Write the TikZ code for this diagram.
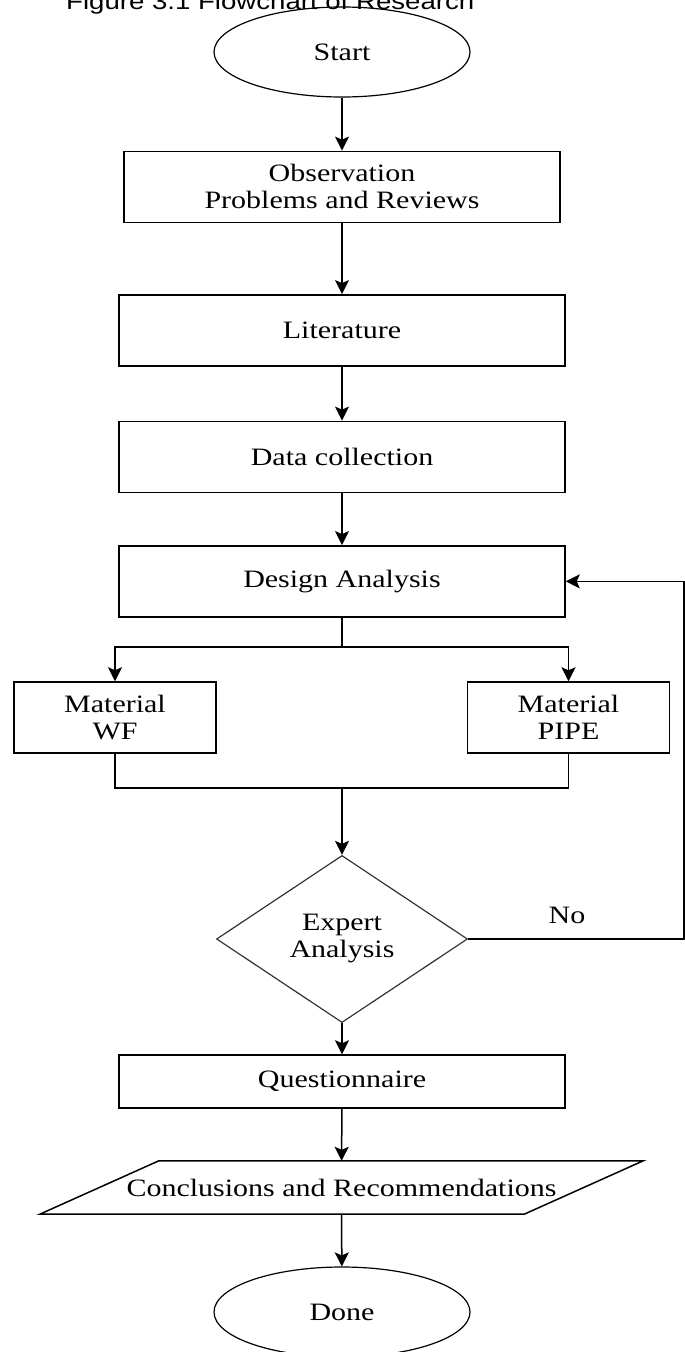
\documentclass[tikz,border=0pt]{standalone}
\usepackage{fontspec}
\setmainfont[FakeStretch=1.2]{Liberation Serif}
\newfontfamily\captionfont[FakeStretch=1.2]{Liberation Sans}
\usepackage{tikz}
\usetikzlibrary{shapes.geometric, positioning, arrows.meta}
\tikzstyle{startstop} = [ellipse, minimum width=256pt, minimum height=90pt, text centered, draw=black, line width=1.2pt]
\tikzstyle{process} = [rectangle, minimum width=446pt, minimum height=71pt, text centered, align=center, draw=black, line width=1.5pt]
\tikzstyle{material} = [process, minimum width=202pt]
\tikzstyle{decision} = [diamond, minimum width=251pt, minimum height=158pt, align=center, draw=black!80, line width=1.2pt]
\tikzstyle{io} = [rectangle, minimum width=484pt, minimum height=53pt, text centered]
\tikzstyle{arrow} = [line width=1.5pt, -{Stealth[length=14pt, width=14pt, inset=3pt]}]
\tikzstyle{line} = [line width=1.5pt]

\begin{document}
\begin{tikzpicture}[x=1pt, y=1pt, font=\fontsize{25}{27}\selectfont]
		\clip (0,0) rectangle (685,-1352);
		\node (caption)[anchor=base west, inner sep=0, font=\captionfont\fontsize{23}{26}\selectfont] at (66,-9) {Figure 3.1 Flowchart of Research};
		\node (Start)[startstop] at (342,-52) {Start};
		\node (Observation)[process, minimum width=436pt, below = 53pt of Start]{Observation\\Problems and Reviews};
		\node (Literature)[process, below = 71pt of Observation]{Literature};
		\node (Data)[process, below = 54pt of Literature]{Data collection};
		\node (Design)[process, below = 52pt of Data]{Design Analysis};
		\node (WF)[material] at (115,-717.5) {Material\\WF};
		\node (PIPE)[material] at (568.5,-717.5) {Material\\PIPE};
		\node (Expert)[decision] at (342,-939) {Expert\\Analysis};
		\node (Questionnaire)[process, minimum height=53pt] at (342,-1081.5) {Questionnaire};
		\node (Conclusions)[io] at (341.5,-1187.5) {Conclusions and Recommendations};
		\draw [line] ([xshift=59.5pt]Conclusions.north west) -- ([xshift=59.5pt]Conclusions.north east)
			-- ([xshift=-59.5pt]Conclusions.south east) -- ([xshift=-59.5pt]Conclusions.south west) -- cycle;
		\node (Done)[startstop] at (342,-1312) {Done};
		\node (No) at (567,-915) {No};
		\coordinate (split) at (342,-647);
		\coordinate (merge) at (342,-788);
		\coordinate (back) at (684,-939);
		\draw [arrow] (Start) -- (Observation);
		\draw [arrow] (Observation) -- (Literature);
		\draw [arrow] (Literature) -- (Data);
		\draw [arrow] (Data) -- (Design);
		\draw [line] (Design) -- (split);
		\draw [arrow] (split) -| (WF);
		\draw [arrow] (split) -| (PIPE);
		\draw [line] (WF) |- (merge) -| (PIPE);
		\draw [arrow] (merge) -- (Expert);
		\draw [arrow] (Expert) -- (Questionnaire);
		\draw [arrow] (Questionnaire) -- (Conclusions);
		\draw [arrow] (Conclusions) -- (Done);
		\draw [arrow] (Expert) -- (back) |- (Design);
	\end{tikzpicture}
\end{document}
